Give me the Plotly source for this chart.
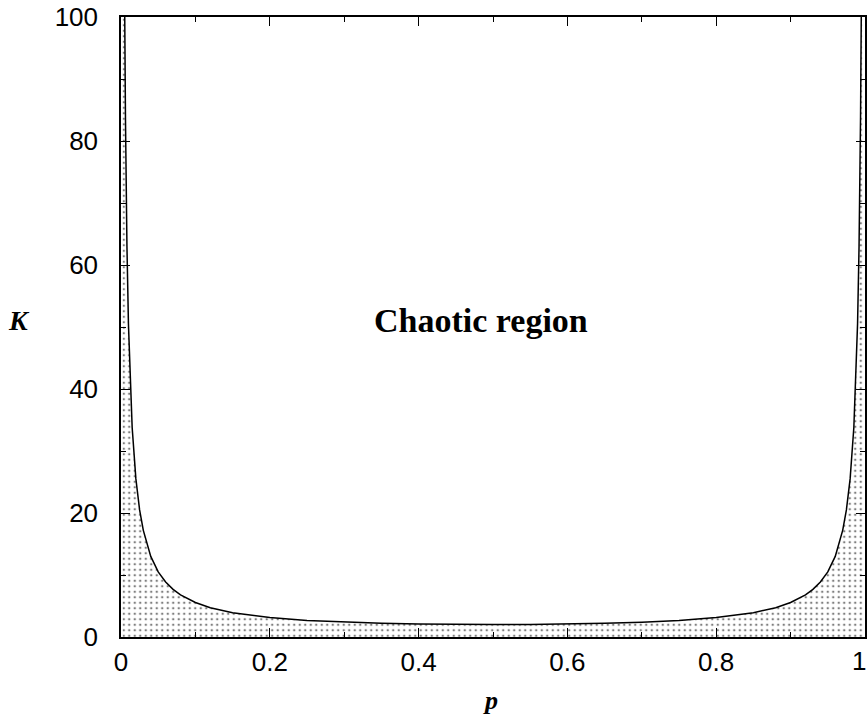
import plotly.graph_objects as go

# Critical coupling curve (p, K)
p_vals = [0.002, 0.004, 0.005, 0.006, 0.007, 0.008, 0.010, 0.012, 0.015, 0.020, 0.025,
          0.030, 0.040, 0.050, 0.060, 0.070, 0.080, 0.100, 0.120, 0.150, 0.200,
          0.250, 0.300, 0.350, 0.400, 0.450, 0.500, 0.550, 0.600, 0.650, 0.700,
          0.750, 0.800, 0.850, 0.880, 0.900, 0.920, 0.930, 0.940, 0.950, 0.960,
          0.970, 0.975, 0.980, 0.985, 0.988, 0.990, 0.992, 0.993, 0.994, 0.995,
          0.996, 0.998]
K_vals = [250.0, 125.0, 100.5, 83.8, 71.9, 63.0, 50.5, 42.2, 33.8, 25.5, 20.5,
          17.2, 13.0, 10.5, 8.87, 7.68, 6.79, 5.56, 4.73, 3.92, 3.13,
          2.67, 2.38, 2.20, 2.08, 2.02, 2.00, 2.02, 2.08, 2.20, 2.38,
          2.67, 3.13, 3.92, 4.73, 5.56, 6.79, 7.68, 8.87, 10.5, 13.0,
          17.2, 20.5, 25.5, 33.8, 42.2, 50.5, 63.0, 71.9, 83.8, 100.5,
          125.0, 250.0]

x_ticks = [0, 0.2, 0.4, 0.6, 0.8, 1]
x_labels = ["0", "0.2", "0.4", "0.6", "0.8", "1"]
y_ticks = [0, 20, 40, 60, 80, 100]
y_labels = ["0", "20", "40", "60", "80", "100"]

fig = go.Figure()
fig.add_trace(go.Scatter(
    x=p_vals, y=K_vals, mode="lines",
    line=dict(color="black", width=1.5),
    fill="tozeroy",
    fillcolor="white",
    fillpattern=dict(shape=".", fgcolor="black", bgcolor="white",
                     size=5.5, solidity=0.16),
    showlegend=False, hoverinfo="skip",
))

tickfont = dict(family="Liberation Sans, Arial, sans-serif", size=26, color="black")

# last x label is drawn as a right-aligned annotation so it stays inside the page
shown_x_labels = x_labels[:-1] + [""]

fig.update_layout(
    width=867, height=719,
    margin=dict(l=121, r=2, t=17, b=82, autoexpand=False),
    paper_bgcolor="white", plot_bgcolor="white",
    xaxis=dict(range=[0, 1], tickvals=x_ticks, ticktext=shown_x_labels,
               ticks="inside", ticklen=9, tickwidth=1, tickcolor="black",
               minor=dict(dtick=0.1, ticks="inside", ticklen=5, tickcolor="black"),
               showline=True, linecolor="black", linewidth=1.5, mirror="ticks",
               showgrid=False, zeroline=False, tickfont=tickfont,
               ticklabelstandoff=1, ticklabeloverflow="allow", automargin=False),
    yaxis=dict(range=[0, 100], tickvals=y_ticks, ticktext=y_labels,
               ticks="inside", ticklen=9, tickwidth=1, tickcolor="black",
               minor=dict(dtick=10, ticks="inside", ticklen=5, tickcolor="black"),
               showline=True, linecolor="black", linewidth=1.5, mirror="ticks",
               showgrid=False, zeroline=False, tickfont=tickfont,
               ticklabelstandoff=16, ticklabeloverflow="allow", automargin=False),
    annotations=[
        dict(text=x_labels[-1], xref="paper", yref="paper",
             x=1.0027, y=-0.0387, showarrow=False, xanchor="right", yanchor="middle",
             borderpad=0, font=tickfont),
        dict(text="<b><i>K</i></b>", xref="paper", yref="paper",
             x=-0.137, y=0.511, showarrow=False, xanchor="center", yanchor="middle",
             font=dict(family="Liberation Serif, Times New Roman, serif", size=28, color="black")),
        dict(text="<b><i>p</i></b>", xref="paper", yref="paper",
             x=0.496, y=-0.103, showarrow=False, xanchor="center", yanchor="middle",
             font=dict(family="Liberation Serif, Times New Roman, serif", size=26, color="black")),
        dict(text="<b>Chaotic region</b>", xref="x", yref="y",
             x=0.484, y=51, showarrow=False, xanchor="center", yanchor="middle",
             font=dict(family="Liberation Serif, Times New Roman, serif", size=34, color="black")),
    ],
)

fig.write_html("out.html")
